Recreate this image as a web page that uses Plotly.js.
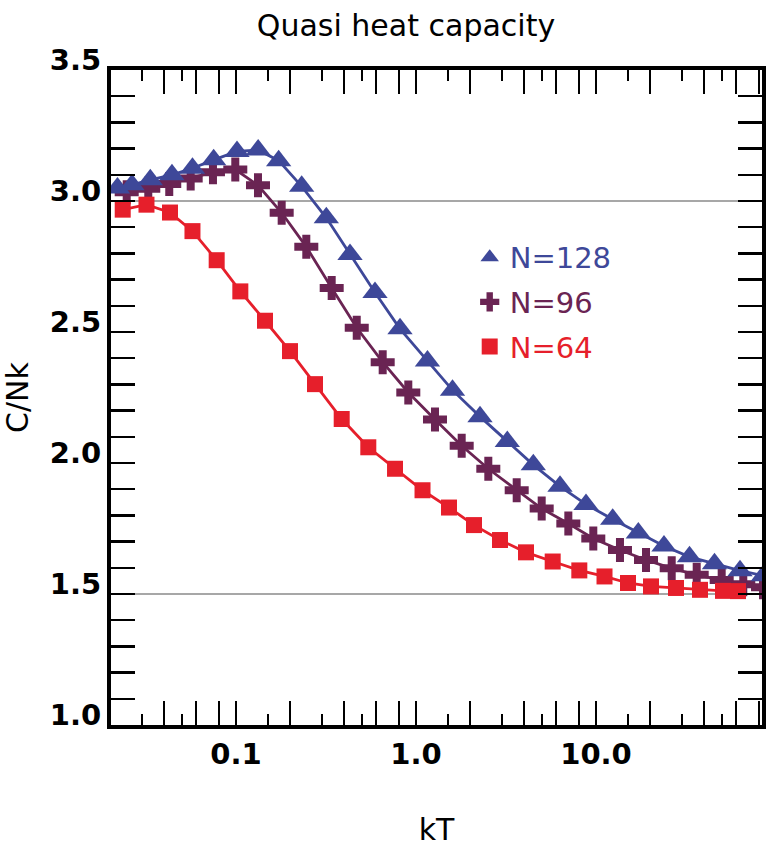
<!DOCTYPE html>
<html>
<head>
<meta charset="utf-8">
<script src="https://cdn.plot.ly/plotly-3.0.1.min.js"></script>
<style>html,body{margin:0;padding:0;background:#fff;}</style>
</head>
<body>
<div id="chart" style="width:771px;height:852px;"></div>
<script>
// ---- data ----
const kT_128 = [0.02196, 0.02644, 0.03341, 0.04409, 0.05731, 0.07516, 0.1013, 0.1328, 0.1726, 0.2317, 0.3175, 0.4299, 0.5918, 0.815, 1.158, 1.595, 2.268, 3.216, 4.485, 6.31, 8.8, 12.38, 17.18, 23.86, 33.07, 45.53, 63.1, 85.0];
const C_128  = [3.050, 3.062, 3.081, 3.100, 3.125, 3.157, 3.189, 3.195, 3.154, 3.056, 2.936, 2.796, 2.651, 2.512, 2.389, 2.278, 2.177, 2.082, 1.993, 1.911, 1.842, 1.785, 1.733, 1.683, 1.642, 1.615, 1.589, 1.570];

const kT_96 = [0.02471, 0.03256, 0.04258, 0.05601, 0.07449, 0.0991, 0.1325, 0.1794, 0.2458, 0.3401, 0.4686, 0.6531, 0.9062, 1.275, 1.794, 2.522, 3.626, 4.992, 7.019, 9.66, 13.59, 18.96, 26.34, 36.26, 49.92, 65.8, 84.7];
const C_96  = [3.033, 3.047, 3.065, 3.086, 3.110, 3.120, 3.060, 2.955, 2.825, 2.668, 2.516, 2.385, 2.269, 2.166, 2.066, 1.978, 1.896, 1.826, 1.769, 1.712, 1.668, 1.630, 1.598, 1.573, 1.553, 1.537, 1.526];

const kT_64 = [0.02348, 0.03182, 0.04299, 0.05731, 0.07811, 0.1057, 0.1449, 0.1995, 0.2748, 0.3866, 0.5433, 0.7647, 1.087, 1.525, 2.100, 2.929, 4.084, 5.746, 8.077, 11.15, 15.06, 20.21, 27.83, 37.82, 50.76, 61.5];
const C_64  = [2.967, 2.986, 2.956, 2.885, 2.774, 2.655, 2.543, 2.427, 2.301, 2.168, 2.060, 1.978, 1.896, 1.830, 1.763, 1.706, 1.659, 1.624, 1.590, 1.567, 1.542, 1.529, 1.523, 1.516, 1.512, 1.511];

const seriesNames = ['N=128', 'N=96', 'N=64'];

const xTickVals  = [0.04, 0.06, 0.08, 0.1, 0.2, 0.4, 0.6, 0.8, 1, 2, 4, 6, 8, 10, 20, 40, 60, 80];
const xTickText  = ['', '', '', '0.1', '', '', '', '', '1.0', '', '', '', '', '10.0', '', '', '', ''];
const xMinorVals = [0.03, 0.05, 0.15, 0.3, 0.5, 1.5, 3, 5, 15, 30, 50];

const yTickVals = [1.0, 1.1, 1.2, 1.3, 1.4, 1.5, 1.6, 1.7, 1.8, 1.9, 2.0, 2.1, 2.2, 2.3, 2.4, 2.5, 2.6, 2.7, 2.8, 2.9, 3.0, 3.1, 3.2, 3.3, 3.4, 3.5];
const yTickText = ['1.0', '', '', '', '', '1.5', '', '', '', '', '2.0', '', '', '', '', '2.5', '', '', '', '', '3.0', '', '', '', '', '3.5'];

const refLevels = [3.0, 1.5];

// ---- styling ----
const colors = {'N=128': '#3e4899', 'N=96': '#6a2453', 'N=64': '#e61f2b'};
const symbols = {'N=128': 'triangle-up', 'N=96': 'cross', 'N=64': 'square'};
const sizes = {'N=128': 22, 'N=96': 20, 'N=64': 16};
const xs = {'N=128': kT_128, 'N=96': kT_96, 'N=64': kT_64};
const ys = {'N=128': C_128, 'N=96': C_96, 'N=64': C_64};
const ranks = {'N=128': 1, 'N=96': 2, 'N=64': 3};

const drawOrder = ['N=96', 'N=128', 'N=64'];
const traces = [];
drawOrder.forEach(n => {
  traces.push({
    x: xs[n], y: ys[n], type: 'scatter', mode: 'lines',
    line: {color: colors[n], width: 2.8},
    showlegend: false, hoverinfo: 'skip'
  });
});
drawOrder.forEach(n => {
  traces.push({
    x: xs[n], y: ys[n], type: 'scatter', mode: 'markers',
    name: '<span style="color:' + colors[n] + '">' + n + '</span>',
    legendgroup: n, legendrank: ranks[n],
    marker: {color: colors[n], symbol: symbols[n], size: sizes[n], line: {width: 0}}
  });
});

const shapes = refLevels.map(v => ({
  type: 'line', xref: 'paper', x0: 0, x1: 1, yref: 'y', y0: v, y1: v,
  line: {color: '#8a8a8a', width: 1.6}, layer: 'below'
}));

const layout = {
  width: 771, height: 852,
  margin: {l: 111, r: 9, t: 70, b: 127},
  paper_bgcolor: '#ffffff', plot_bgcolor: '#ffffff',
  title: {
    text: 'Quasi heat capacity',
    font: {family: 'DejaVu Sans', size: 30, color: '#000'},
    xref: 'container', x: 0.5266, xanchor: 'center',
    yref: 'container', y: 0.970, yanchor: 'middle'
  },
  xaxis: {
    type: 'log',
    range: [-1.6944, 1.9222],
    showgrid: false, zeroline: false,
    showline: true, linecolor: '#000', linewidth: 4, mirror: 'ticks',
    ticks: 'inside', ticklen: 24, tickwidth: 2, tickcolor: '#000',
    tickmode: 'array', tickvals: xTickVals, ticktext: xTickText,
    tickfont: {family: 'DejaVu Sans', size: 29, weight: 'bold', color: '#000'},
    minor: {tickmode: 'array', tickvals: xMinorVals, ticks: 'inside', ticklen: 11, tickwidth: 2, tickcolor: '#000', showgrid: false},
    title: {text: 'kT', font: {family: 'DejaVu Sans', size: 30, color: '#000'}, standoff: 50}
  },
  yaxis: {
    range: [1.0, 3.5],
    showgrid: false, zeroline: false,
    showline: true, linecolor: '#000', linewidth: 4, mirror: 'ticks',
    ticks: 'inside', ticklen: 24, tickwidth: 2.4, tickcolor: '#000',
    tickmode: 'array', tickvals: yTickVals, ticktext: yTickText,
    ticklabelshift: -10,
    tickfont: {family: 'DejaVu Sans', size: 29, weight: 'bold', color: '#000'},
    title: {text: 'C/Nk', font: {family: 'DejaVu Sans', size: 30, color: '#000'}, standoff: 20}
  },
  legend: {
    x: 0.551, xanchor: 'left', y: 0.753, yanchor: 'top',
    bgcolor: 'rgba(0,0,0,0)', borderwidth: 0,
    font: {family: 'DejaVu Sans', size: 29},
    traceorder: 'grouped', tracegroupgap: 4
  },
  shapes: shapes
};

Plotly.newPlot('chart', traces, layout, {displayModeBar: false, staticPlot: true});
</script>
</body>
</html>
